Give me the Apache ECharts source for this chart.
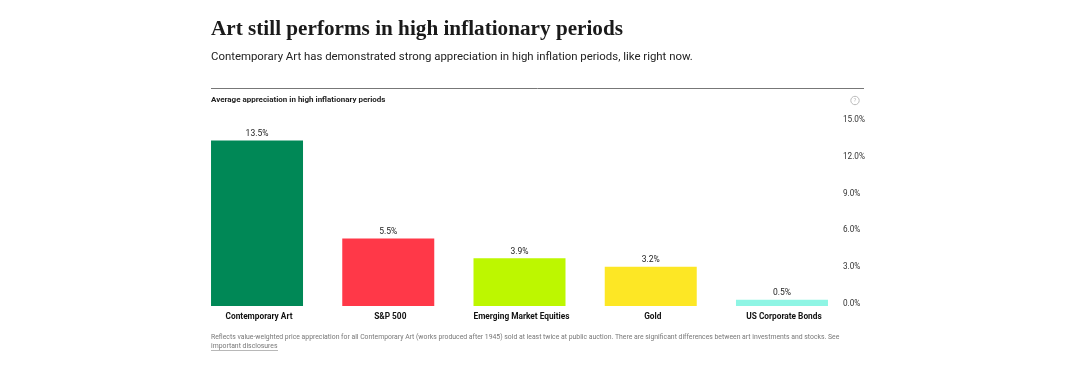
<!DOCTYPE html>
<html>
<head>
<meta charset="utf-8">
<style>
  html, body { margin: 0; padding: 0; background: #fff; }
  #chart { width: 1075px; height: 382px; }
</style>
<script src="https://cdn.jsdelivr.net/npm/echarts@6/dist/echarts.min.js"></script>
</head>
<body>
<div id="chart"></div>
<script>
const categories = ['Contemporary Art', 'S&P 500', 'Emerging Market Equities', 'Gold', 'US Corporate Bonds'];
const appreciation = [13.5, 5.5, 3.9, 3.2, 0.5];
const barColors = ['#008856', '#ff3848', '#bdf700', '#fde725', '#8ef5e4'];

const headline = 'Art still performs in high inflationary periods';
const subhead = 'Contemporary Art has demonstrated strong appreciation in high inflation periods, like right now.';
const chartLabel = 'Average appreciation in high inflationary periods';
const footnote = 'Reflects value-weighted price appreciation for all Contemporary Art (works produced after 1945) sold at least twice at public auction. There are significant differences between art investments and stocks. See';
const footnoteLink = 'important disclosures';

const sans = 'Roboto, "Noto Sans", sans-serif';
const chart = echarts.init(document.getElementById('chart'));

chart.setOption({
  animation: false,
  grid: { left: 191.4, width: 656.2, top: 122, height: 184 },
  xAxis: {
    type: 'category',
    data: categories,
    axisLine: { show: false },
    axisTick: { show: false },
    axisLabel: { color: '#111', fontFamily: sans, fontSize: 8.3, fontWeight: 700, margin: 7, interval: 0, padding: [0, 0, 0, 4] },
  },
  yAxis: {
    type: 'value',
    position: 'right',
    min: 0,
    max: 15,
    interval: 3,
    splitLine: { show: false },
    axisLine: { show: false },
    axisTick: { show: false },
    axisLabel: {
      color: '#333',
      fontFamily: sans,
      fontSize: 8.2,
      align: 'left',
      verticalAlign: 'bottom',
      lineHeight: 4,
      margin: -4.6,
      formatter: (v) => v.toFixed(1) + '%',
    },
  },
  series: [
    {
      type: 'bar',
      barWidth: 92,
      data: appreciation.map((v, i) => ({ value: v, itemStyle: { color: barColors[i] } })),
      label: {
        show: true,
        position: 'top',
        distance: 2,
        color: '#222',
        fontFamily: sans,
        fontSize: 8.5,
        formatter: (p) => p.value.toFixed(1) + '%',
      },
    },
  ],
  graphic: [
    { type: 'text', left: 211, top: 19, style: { text: headline, fill: '#1a1a1a', font: 'bold 21.2px "Liberation Serif", serif' } },
    { type: 'text', left: 211, top: 52, style: { text: subhead, fill: '#222', font: '11.4px ' + sans } },
    { type: 'line', shape: { x1: 211, y1: 88.5, x2: 864, y2: 88.5 }, style: { stroke: '#777', lineWidth: 1 } },
    { type: 'text', left: 211, top: 96, style: { text: chartLabel, fill: '#222', font: '700 8px ' + sans } },
    { type: 'circle', shape: { cx: 855, cy: 100.5, r: 4.2 }, style: { fill: 'none', stroke: '#bbb', lineWidth: 1 } },
    { type: 'text', x: 855, y: 100.5, style: { text: '?', fill: '#bbb', font: '6px ' + sans, align: 'center', verticalAlign: 'middle' } },
    { type: 'text', left: 211, top: 333.5, style: { text: footnote, fill: '#777', font: '6.85px ' + sans } },
    { type: 'text', left: 211, top: 342.5, style: { text: footnoteLink, fill: '#777', font: '6.85px ' + sans } },
    { type: 'line', shape: { x1: 211, y1: 350.5, x2: 278, y2: 350.5 }, style: { stroke: '#999', lineWidth: 0.7 } },
  ],
});
</script>
</body>
</html>
